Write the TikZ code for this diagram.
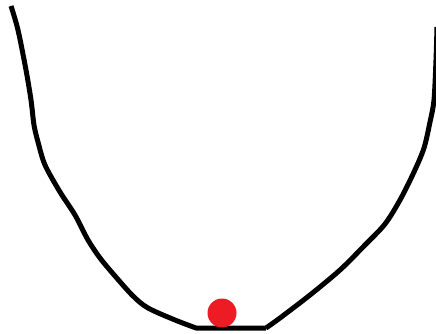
\documentclass[tikz,border=0pt]{standalone}
\definecolor{paintred}{HTML}{ED1C24}
\tikzset{curveline/.style={line width=5pt,black,line join=round,line cap=butt}}
\begin{document}
\begin{tikzpicture}[x=1pt,y=-1pt]
\useasboundingbox (0,0) rectangle (436,334);
\clip (0,0) rectangle (436,334);
\draw[curveline] plot[smooth,tension=0.5] coordinates {(11,6) (18,30) (26,70) (31,100) (34,125) (38,142) (45,165) (60,192) (75,215) (88,240) (100,258) (115,276) (133,296) (148,308) (175,320) (196,328)}
  -- (266,328)
  plot[smooth,tension=0.5] coordinates {(266,328) (280,318) (310,295) (340,270) (365,245) (385,224) (400,200) (414,172) (424,148) (430,122) (434,100) (436,60) (437,27)};
\fill[paintred] (222,313) circle[radius=14.5];
\end{tikzpicture}
\end{document}
